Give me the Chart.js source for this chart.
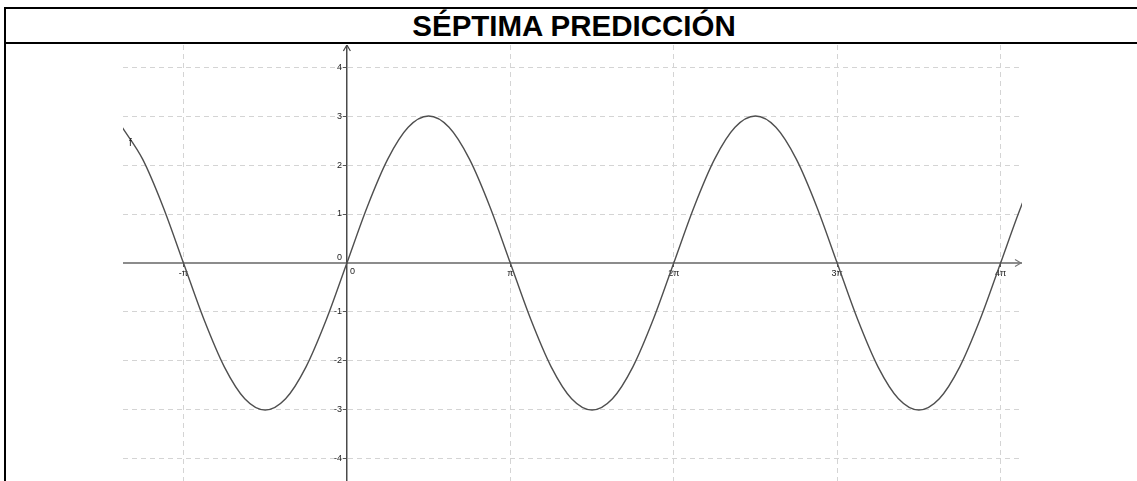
<!DOCTYPE html>
<html>
<head>
<meta charset="utf-8">
<script src="https://cdn.jsdelivr.net/npm/chart.js@4/dist/chart.umd.min.js"></script>
<style>
    html, body { margin: 0; padding: 0; background: #fff; }
    body { width: 1137px; height: 481px; overflow: hidden; position: relative; }
    #table {
        position: absolute; left: 4px; top: 7px; width: 1200px; height: 500px;
        border-left: 2px solid #000; border-top: 2px solid #000;
    }
    #title {
        position: absolute; left: 0; top: 0; width: 1136px; height: 33px; line-height: 34px;
        border-bottom: 2.5px solid #000; text-align: center;
        font: bold 29.5px "Liberation Sans", Arial, sans-serif; color: #000;
    }
    #plot { position: absolute; left: 123px; top: 45px; width: 899px; height: 436px; }
</style>
</head>
<body>
<div id="table"><div id="title">SÉPTIMA PREDICCIÓN</div></div>
<div id="plot"><canvas id="chart"></canvas></div>
<script>
// f(x) = 3 sin x, x given in multiples of π
const xPi = [
    -1.375, -1.25, -1.125, -1, -0.875, -0.75, -0.625, -0.5, -0.375, -0.25, -0.125,
    0, 0.125, 0.25, 0.375, 0.5, 0.625, 0.75, 0.875,
    1, 1.125, 1.25, 1.375, 1.5, 1.625, 1.75, 1.875,
    2, 2.125, 2.25, 2.375, 2.5, 2.625, 2.75, 2.875,
    3, 3.125, 3.25, 3.375, 3.5, 3.625, 3.75, 3.875,
    4, 4.125, 4.25
]
const fValues = [
    2.77, 2.12, 1.15, 0, -1.15, -2.12, -2.77, -3, -2.77, -2.12, -1.15,
    0, 1.15, 2.12, 2.77, 3, 2.77, 2.12, 1.15,
    0, -1.15, -2.12, -2.77, -3, -2.77, -2.12, -1.15,
    0, 1.15, 2.12, 2.77, 3, 2.77, 2.12, 1.15,
    0, -1.15, -2.12, -2.77, -3, -2.77, -2.12, -1.15,
    0, 1.15, 2.12
]

const xTickValues = [-1, 0, 1, 2, 3, 4]
const xTickLabels = ['-π', '0', 'π', '2π', '3π', '4π']
const yTickValues = [-4, -3, -2, -1, 0, 1, 2, 3, 4]
const yTickLabels = ['-4', '-3', '-2', '-1', '0', '1', '2', '3', '4']

const xRange = { min: -1.37, max: 4.131 }
const yRange = { min: -4.45, max: 4.45 }
const fLabel = { x: -1.325, y: 2.45, text: 'f' }

const labelFont = '9px "Liberation Sans"'
const gridStyle = { color: '#d4d4d4', lineWidth: 1, drawTicks: true, tickLength: 3, tickColor: '#555' }

// axes sit inside the plot, so no room is kept for their labels
const noPadding = scale => {
    scale.paddingTop = 0
    scale.paddingBottom = 0
    scale.paddingLeft = 0
    scale.paddingRight = 0
}

// axis arrows, y labels, origin labels and the curve name
const axisDecor = {
    id: 'axisDecor',
    afterDraw(chart) {
        const { ctx, chartArea, scales: { x, y } } = chart
        const x0 = x.getPixelForValue(0)
        const y0 = y.getPixelForValue(0)
        ctx.save()

        ctx.lineWidth = 1.2
        ctx.strokeStyle = '#777'
        ctx.beginPath()
        ctx.moveTo(chartArea.right - 7, y0 - 3.5)
        ctx.lineTo(chartArea.right - 1, y0)
        ctx.lineTo(chartArea.right - 7, y0 + 3.5)
        ctx.stroke()

        ctx.strokeStyle = '#444'
        ctx.beginPath()
        ctx.moveTo(x0 - 3.5, chartArea.top + 6)
        ctx.lineTo(x0, chartArea.top)
        ctx.lineTo(x0 + 3.5, chartArea.top + 6)
        ctx.stroke()

        ctx.fillStyle = '#222'
        ctx.font = labelFont
        ctx.textAlign = 'right'
        yTickValues.forEach((v, i) => {
            if (v === 0) {
                ctx.textBaseline = 'bottom'
                ctx.fillText(yTickLabels[i], x0 - 5, y0 - 1)
            } else {
                ctx.textBaseline = 'middle'
                ctx.fillText(yTickLabels[i], x0 - 5, y.getPixelForValue(v))
            }
        })
        ctx.textAlign = 'left'
        ctx.textBaseline = 'top'
        ctx.fillText(xTickLabels[xTickValues.indexOf(0)], x0 + 3, y0 + 4)

        ctx.font = '10px "Liberation Sans"'
        ctx.textAlign = 'center'
        ctx.textBaseline = 'middle'
        ctx.fillText(fLabel.text, x.getPixelForValue(fLabel.x), y.getPixelForValue(fLabel.y))
        ctx.restore()
    }
}

const chart = new Chart(document.getElementById('chart'), {
    type: 'line',
    data: {
        datasets: [{
            data: xPi.map((v, i) => ({ x: v, y: fValues[i] })),
            borderColor: '#4f4f4f',
            borderWidth: 1.4,
            pointRadius: 0,
            cubicInterpolationMode: 'monotone',
            fill: false
        }]
    },
    options: {
        responsive: true,
        maintainAspectRatio: false,
        animation: false,
        layout: { padding: 0 },
        plugins: { legend: { display: false }, title: { display: false }, tooltip: { enabled: false } },
        scales: {
            x: {
                type: 'linear',
                position: { y: 0 },
                min: xRange.min,
                max: xRange.max,
                afterFit: noPadding,
                grid: gridStyle,
                border: { display: true, color: '#8c8c8c', width: 2, dash: [5, 4] },
                ticks: {
                    stepSize: 1,
                    includeBounds: false,
                    padding: 2,
                    maxRotation: 0,
                    autoSkip: false,
                    color: '#222',
                    font: { family: 'Liberation Sans', size: 9 },
                    callback: v => {
                        const i = xTickValues.indexOf(v)
                        // the origin's "0" is drawn by axisDecor, clear of the y axis
                        return (i < 0 || v === 0) ? '' : xTickLabels[i]
                    }
                }
            },
            y: {
                type: 'linear',
                position: { x: 0 },
                min: yRange.min,
                max: yRange.max,
                afterFit: noPadding,
                grid: gridStyle,
                border: { display: true, color: '#4a4a4a', width: 1.5, dash: [5, 4] },
                ticks: { stepSize: 1, includeBounds: false, display: false }
            }
        }
    },
    plugins: [axisDecor]
})
</script>
</body>
</html>
